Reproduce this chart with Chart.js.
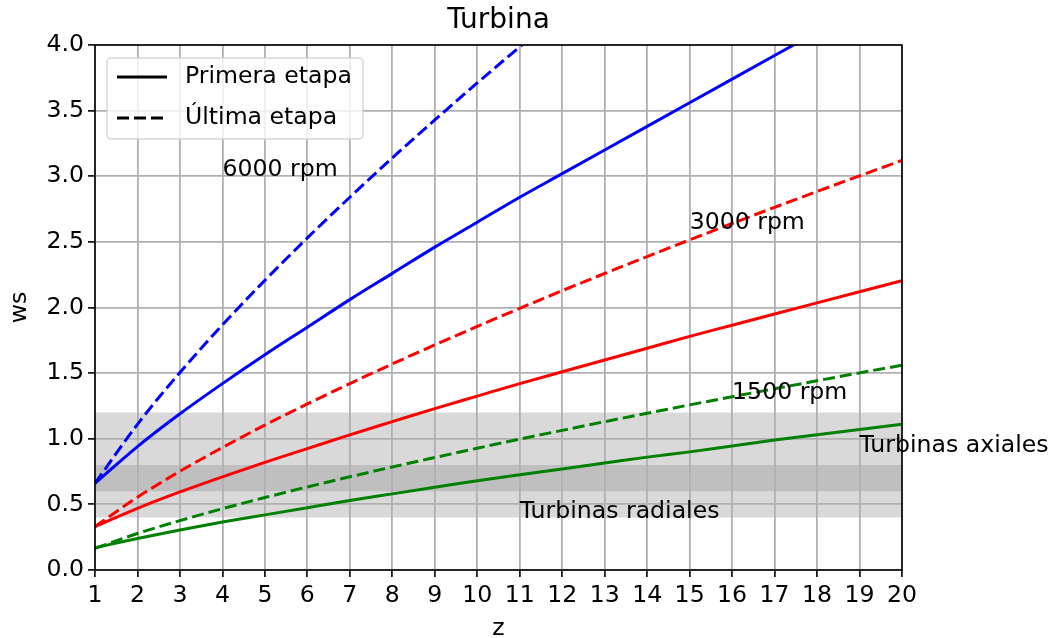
<!DOCTYPE html>
<html>
<head>
<meta charset="utf-8">
<script src="https://cdn.jsdelivr.net/npm/chart.js@4/dist/chart.umd.min.js"></script>
<style>
  html, body { margin: 0; padding: 0; background: #fff; }
  #wrap { width: 1063px; height: 638px; }
</style>
</head>
<body>
<div id="wrap"><canvas id="turbina" width="1063" height="638"></canvas></div>
<script>
// ---- data ----
const zValues = [1, 2, 3, 4, 5, 6, 7, 8, 9, 10, 11, 12, 13, 14, 15, 16, 17, 18, 19, 20];

// primera etapa (solid)
const ws6000Primera = [0.66, 0.94, 1.19, 1.42, 1.64, 1.85, 2.06, 2.26, 2.46, 2.65, 2.84, 3.02, 3.20, 3.38, 3.56, 3.74, 3.92, 4.10];
const ws3000Primera = [0.33, 0.47, 0.595, 0.71, 0.82, 0.925, 1.03, 1.13, 1.23, 1.325, 1.42, 1.51, 1.60, 1.69, 1.78, 1.865, 1.95, 2.035, 2.12, 2.205];
const ws1500Primera = [0.17, 0.24, 0.305, 0.365, 0.42, 0.475, 0.53, 0.58, 0.63, 0.68, 0.725, 0.77, 0.815, 0.86, 0.90, 0.945, 0.99, 1.03, 1.07, 1.11];

// ultima etapa (dashed)
const ws6000Ultima = [0.66, 1.11, 1.505, 1.867, 2.207, 2.53, 2.84, 3.14, 3.429, 3.711, 3.986, 4.255];
const ws3000Ultima = [0.33, 0.555, 0.752, 0.933, 1.104, 1.265, 1.42, 1.57, 1.715, 1.856, 1.993, 2.128, 2.259, 2.388, 2.515, 2.64, 2.763, 2.884, 3.003, 3.121];
const ws1500Ultima = [0.165, 0.278, 0.376, 0.467, 0.552, 0.633, 0.71, 0.785, 0.857, 0.928, 0.997, 1.064, 1.13, 1.194, 1.258, 1.32, 1.381, 1.442, 1.502, 1.56];

// shaded ranges [from, to]
const bandRadiales = [0.4, 0.8];
const bandAxiales = [0.6, 1.2];

// text annotations
const noteTexts = ['6000 rpm', '3000 rpm', '1500 rpm', 'Turbinas radiales', 'Turbinas axiales'];
const noteZ = [4, 15, 16, 11, 19];
const noteWs = [3.0, 2.6, 1.3, 0.4, 0.9];

const legendLabels = ['Primera etapa', 'Última etapa'];

const FONT = "'DejaVu Sans', sans-serif";
const DASH = [12, 5];

function pts(arr) {
  return arr.map((v, i) => ({ x: zValues[i], y: v }));
}

function curve(arr, color, dashed) {
  return {
    type: 'line',
    data: pts(arr),
    borderColor: color,
    borderWidth: 3,
    borderDash: dashed ? DASH : [],
    pointRadius: 0,
    fill: false,
    cubicInterpolationMode: 'monotone',
    clip: 0,
    order: 1
  };
}

function band(range) {
  return {
    type: 'line',
    data: [{ x: zValues[0], y: range[1] }, { x: zValues[zValues.length - 1], y: range[1] }],
    borderWidth: 0,
    borderColor: 'rgba(0,0,0,0)',
    pointRadius: 0,
    backgroundColor: 'rgba(128,128,128,0.3)',
    fill: { value: range[0] },
    order: 5
  };
}

// annotations, legend box and the axes frame
const extras = {
  id: 'extras',
  afterDatasetsDraw(chart) {
    const ctx = chart.ctx;
    const a = chart.chartArea;
    const xs = chart.scales.x, ys = chart.scales.y;

    ctx.save();
    ctx.fillStyle = '#000';
    ctx.font = '23.6px ' + FONT;
    ctx.textAlign = 'left';
    ctx.textBaseline = 'alphabetic';
    noteTexts.forEach((t, i) => {
      ctx.fillText(t, xs.getPixelForValue(noteZ[i]), ys.getPixelForValue(noteWs[i]));
    });

    // legend
    const lx = a.left + 12, ly = a.top + 13, lw = 256, lh = 81;
    ctx.beginPath();
    ctx.roundRect(lx, ly, lw, lh, 4);
    ctx.fillStyle = 'rgba(255,255,255,0.8)';
    ctx.fill();
    ctx.lineWidth = 1.5;
    ctx.strokeStyle = 'rgba(204,204,204,0.8)';
    ctx.stroke();

    legendLabels.forEach((t, i) => {
      const y = ly + 19 + i * 41;
      ctx.beginPath();
      ctx.setLineDash(i === 0 ? [] : DASH);
      ctx.moveTo(lx + 10, y);
      ctx.lineTo(lx + 60, y);
      ctx.strokeStyle = '#000';
      ctx.lineWidth = 3;
      ctx.stroke();
      ctx.setLineDash([]);
      ctx.fillStyle = '#000';
      ctx.textBaseline = 'middle';
      ctx.fillText(t, lx + 78, y);
    });

    // frame
    ctx.strokeStyle = '#000';
    ctx.lineWidth = 1.6;
    ctx.strokeRect(a.left, a.top, a.right - a.left, a.bottom - a.top);
    ctx.restore();
  }
};

new Chart(document.getElementById('turbina'), {
  type: 'line',
  data: {
    datasets: [
      curve(ws6000Primera, '#0000ff', false),
      curve(ws6000Ultima, '#0000ff', true),
      curve(ws3000Primera, '#ff0000', false),
      curve(ws3000Ultima, '#ff0000', true),
      curve(ws1500Primera, '#008000', false),
      curve(ws1500Ultima, '#008000', true),
      band(bandRadiales),
      band(bandAxiales)
    ]
  },
  options: {
    responsive: false,
    animation: false,
    events: [],
    layout: { padding: { left: 0, right: 161, top: 0, bottom: 0 } },
    plugins: {
      legend: { display: false },
      tooltip: { enabled: false },
      filler: { drawTime: 'beforeDraw' },
      title: {
        display: true,
        text: 'Turbina',
        fullSize: false,
        color: '#000',
        font: { family: FONT, size: 28, weight: 'normal', lineHeight: 1.2 },
        padding: { top: 4, bottom: 7.4 }
      }
    },
    scales: {
      x: {
        type: 'linear',
        min: 1,
        max: 20,
        afterFit: s => { s.height = 68; },
        ticks: {
          stepSize: 1,
          color: '#000',
          padding: 5,
          font: { family: FONT, size: 23.6 },
          maxRotation: 0,
          autoSkip: false
        },
        grid: { color: '#b0b0b0', lineWidth: 1.8, tickColor: '#000', tickWidth: 1.6, tickLength: 7 },
        border: { display: false },
        title: {
          display: true,
          text: 'z',
          color: '#000',
          font: { family: FONT, size: 23.6, lineHeight: 0.75 },
          padding: { top: 0, bottom: 0 }
        }
      },
      y: {
        type: 'linear',
        min: 0,
        max: 4,
        afterFit: s => { s.width = 95; },
        ticks: {
          stepSize: 0.5,
          color: '#000',
          padding: 4,
          font: { family: FONT, size: 23.6 },
          callback: v => v.toFixed(1)
        },
        grid: { color: '#b0b0b0', lineWidth: 1.8, tickColor: '#000', tickWidth: 1.6, tickLength: 7 },
        border: { display: false },
        title: {
          display: true,
          text: 'ws',
          color: '#000',
          font: { family: FONT, size: 23.6, lineHeight: 1 },
          padding: { top: 8, bottom: 0 }
        }
      }
    }
  },
  plugins: [extras]
});
</script>
</body>
</html>
